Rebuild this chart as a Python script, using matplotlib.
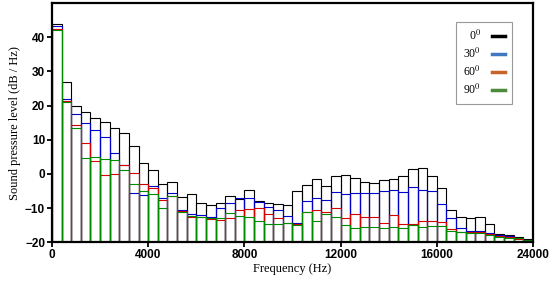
import matplotlib.pyplot as plt
from matplotlib.lines import Line2D

# Datos (dB/Hz por banda)
ancho_banda = 400
nivel_0 = [44.0, 26.8, 19.8, 18.2, 16.5, 15.1, 13.4, 12.0, 8.2, 3.1,
           1.1, -2.9, -2.5, -6.9, -5.9, -8.4, -9.0, -8.6, -6.6, -7.3,
           -4.7, -7.8, -8.4, -8.8, -9.0, -4.9, -3.2, -1.4, -3.6, -0.5,
           -0.3, -1.1, -2.5, -2.7, -1.8, -1.6, -0.6, 1.4, 1.7, -0.6,
           -4.2, -10.5, -12.7, -13.0, -12.7, -14.7, -17.7, -17.9, -18.4, -19.1]
nivel_30 = [43.4, 21.9, 17.6, 14.9, 12.8, 10.7, 6.1, 2.5, -5.5, -6.2,
            -3.5, -7.2, -5.6, -10.6, -11.6, -11.9, -12.7, -10.0, -8.4, -7.2,
            -7.2, -8.2, -9.6, -10.7, -12.2, -14.3, -8.0, -7.1, -7.6, -5.2,
            -5.9, -5.5, -5.6, -5.6, -4.9, -4.8, -5.2, -3.9, -4.7, -5.0,
            -8.9, -13.0, -15.9, -16.6, -16.6, -17.3, -18.0, -18.2, -18.8, -19.3]
nivel_60 = [42.5, 21.4, 14.2, 9.0, 3.8, -0.4, 0.1, 2.5, 0.2, -3.1,
            -4.0, -7.5, -6.6, -11.0, -12.5, -12.5, -13.3, -13.5, -13.0, -10.5,
            -10.3, -10.1, -11.8, -13.0, -14.3, -14.6, -11.1, -10.6, -11.2, -10.1,
            -12.8, -11.8, -12.7, -12.7, -14.4, -12.1, -14.7, -14.7, -13.9, -13.8,
            -14.0, -16.2, -16.9, -17.0, -17.0, -17.5, -18.2, -18.4, -19.1, -19.7]
nivel_90 = [42.0, 21.0, 13.4, 4.6, 4.9, 4.5, 4.0, 1.0, -3.0, -5.0,
            -5.9, -9.9, -6.6, -11.2, -12.3, -12.5, -13.0, -13.0, -11.5, -12.3,
            -12.7, -13.7, -14.7, -14.8, -14.4, -14.9, -11.2, -13.9, -11.7, -12.7,
            -14.9, -15.7, -15.5, -15.5, -15.8, -15.5, -15.7, -15.1, -15.5, -15.3,
            -15.2, -16.7, -17.1, -17.4, -17.4, -17.8, -18.4, -18.7, -18.9, -19.4]

etiquetas = ['0$^0$', '30$^0$', '60$^0$', '90$^0$']
colores_barras = ['black', '#0000c8', '#d40000', '#008a00']
colores_leyenda = ['black', '#3f78c0', '#c8642a', '#4b8b3b']

ticks_x = [0, 4000, 8000, 12000, 16000, 20000]
etiquetas_x = ['0', '4000', '8000', '12000', '16000', '24000']
ticks_y = [-20, -10, 0, 10, 20, 30, 40]

plt.rcParams['mathtext.fontset'] = 'stix'

fig = plt.figure(figsize=(5.56, 2.88), dpi=100)
ax = fig.add_axes([0.0935, 0.159, 0.865, 0.83])

base = -20
frecuencias = [i * ancho_banda for i in range(len(nivel_0))]
for niveles, color in zip([nivel_0, nivel_30, nivel_60, nivel_90], colores_barras):
    ax.bar(frecuencias, [v - base for v in niveles], bottom=base, width=ancho_banda,
           align='edge', fill=False, edgecolor=color, linewidth=0.8)

ax.set_xlim(0, 20000)
ax.set_ylim(-20, 50)
ax.set_xticks(ticks_x)
ax.set_xticklabels(etiquetas_x)
ax.set_yticks(ticks_y)

for s in ax.spines.values():
    s.set_linewidth(1.6)
ax.tick_params(direction='out', length=3.5, width=1.3, pad=1.5)
for lab in ax.get_xticklabels() + ax.get_yticklabels():
    lab.set_fontfamily('Liberation Sans')
    lab.set_fontweight('bold')
    lab.set_fontsize(8.5)

ax.set_xlabel('Frequency (Hz)', fontfamily='Liberation Serif', fontsize=9, labelpad=1)
ax.set_ylabel('Sound pressure level (dB / Hz)', fontfamily='Liberation Serif', fontsize=9, labelpad=3)

manejadores = [Line2D([0], [0], color=c, linewidth=2.5) for c in colores_leyenda]
leg = ax.legend(manejadores, etiquetas, loc='upper right', bbox_to_anchor=(0.956, 0.922),
                borderaxespad=0, markerfirst=False, handlelength=1.1, handletextpad=0.9,
                labelspacing=0.3, borderpad=0.6, fancybox=False,
                prop={'family': 'Liberation Serif', 'size': 8.5})
leg.get_frame().set_edgecolor('#808080')
leg.get_frame().set_linewidth(0.8)

plt.savefig('out.png', dpi=100)
